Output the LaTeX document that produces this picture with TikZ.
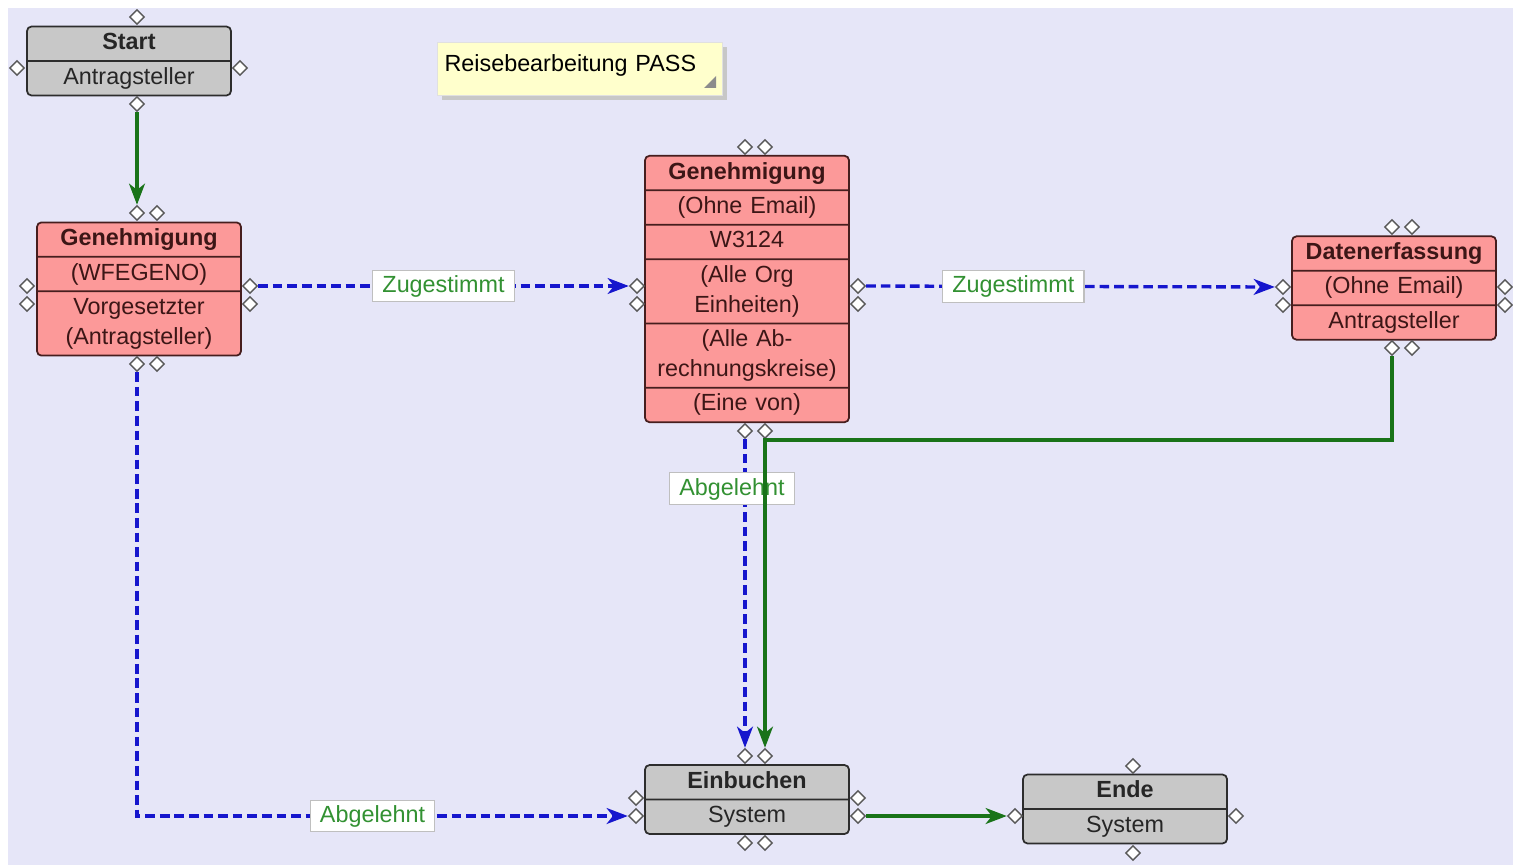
\documentclass[tikz,border=0pt]{standalone}
\usepackage{fontspec}
\setmainfont{Liberation Sans}
\usetikzlibrary{shapes.geometric,shapes.multipart,arrows.meta,shadows}
\definecolor{canvas}{RGB}{230,230,248}
\definecolor{redfill}{RGB}{252,153,153}
\definecolor{redline}{RGB}{70,30,30}
\definecolor{redtext}{RGB}{60,22,22}
\definecolor{grayfill}{RGB}{200,200,200}
\definecolor{grayline}{RGB}{45,45,45}
\definecolor{flowblue}{RGB}{22,22,205}
\definecolor{flowgreen}{RGB}{25,115,25}
\definecolor{lbltext}{RGB}{50,145,50}
\definecolor{notefill}{RGB}{255,255,204}
\tikzset{
  box/.style={rectangle split,rounded corners=2.5pt,line width=1pt,text width=3.8cm,
    inner xsep=0.14cm,inner ysep=0.8pt,align=center,font=\fontsize{13.3}{17}\selectfont},
  redbox/.style={box,fill=redfill,draw=redline,text=redtext},
  graybox/.style={box,fill=grayfill,draw=grayline,text=black!85},
  port/.style={diamond,draw=black!65,fill=white,line width=0.8pt,inner sep=0pt,
    minimum width=0.3cm,minimum height=0.3cm},
  flowok/.style={draw=flowgreen,line width=2pt,-{Stealth[length=12pt,width=9pt,inset=3.5pt]}},
  flowdash/.style={draw=flowblue,line width=1.9pt,dash pattern=on 5.5pt off 2.8pt,
    -{Stealth[length=12pt,width=9pt,inset=3.5pt]}},
  lbl/.style={solid,draw=black!25,fill=white,text=lbltext,line width=0.6pt,
    font=\fontsize{13.3}{17}\selectfont,text height=11pt,text depth=3.5pt,inner xsep=5.5pt,inner ysep=1.8pt},
  notebox/.style={fill=notefill,draw=black!12,minimum width=5.7cm,minimum height=1.06cm,
    text width=5.4cm,align=left,font=\fontsize{13.3}{17}\selectfont,text height=10pt,text depth=6.6pt,
    drop shadow={shadow xshift=0.1cm,shadow yshift=-0.1cm,fill=black!22,opacity=1}}
}
\begin{document}
\begin{tikzpicture}[x=0.02cm,y=-0.02cm]

    % -- Canvas (white strip on the left and top edge) --
    \useasboundingbox (0,0) rectangle (1513,865);
    \fill[white] (0,0) rectangle (1513,865);
    \fill[canvas] (8,8) rectangle (1513,865);

    % -- Title note --
    \node[notebox] (note) at (579.5,68.5) {Reisebearbeitung PASS};
    \fill[black!45] (704,88) -- (716,76) -- (716,88) -- cycle;

    % -- Start --
    \node[graybox,rectangle split parts=2] (start) at (129,61)
      {\strut\textbf{Start}\nodepart{two}\strut Antragsteller};
    \node[port] (startT) at (137,17) {};
    \node[port] (startL) at (17,68) {};
    \node[port] (startR) at (240,68) {};
    \node[port] (startB) at (137,104) {};

    % -- Genehmigung (Vorgesetzter) --
    \node[redbox,rectangle split parts=3] (gen1) at (139,289)
      {\strut\textbf{Genehmigung}\nodepart{two}\strut(WFEGENO)
       \nodepart{three}\strut Vorgesetzter\\\strut(Antragsteller)};
    \node[port] (gen1T1) at (137,213) {};
    \node[port] (gen1T2) at (157,213) {};
    \node[port] (gen1L1) at (27,286) {};
    \node[port] (gen1L2) at (27,304) {};
    \node[port] (gen1R1) at (250,286) {};
    \node[port] (gen1R2) at (250,304) {};
    \node[port] (gen1B1) at (137,364) {};
    \node[port] (gen1B2) at (157,364) {};

    % -- Genehmigung (W3124) --
    \node[redbox,rectangle split parts=6] (gen2) at (747,289)
      {\strut\textbf{Genehmigung}\nodepart{two}\strut(Ohne Email)
       \nodepart{three}\strut W3124
       \nodepart{four}\strut(Alle Org\\\strut Einheiten)
       \nodepart{five}\strut(Alle Ab-\\\strut rechnungskreise)
       \nodepart{six}\strut(Eine von)};
    \node[port] (gen2T1) at (745,147) {};
    \node[port] (gen2T2) at (765,147) {};
    \node[port] (gen2L1) at (637,286) {};
    \node[port] (gen2L2) at (637,304) {};
    \node[port] (gen2R1) at (858,286) {};
    \node[port] (gen2R2) at (858,304) {};
    \node[port] (gen2B1) at (745,431) {};
    \node[port] (gen2B2) at (765,431) {};

    % -- Datenerfassung --
    \node[redbox,rectangle split parts=3] (daten) at (1394,288)
      {\strut\textbf{Datenerfassung}\nodepart{two}\strut(Ohne Email)
       \nodepart{three}\strut Antragsteller};
    \node[port] (datenT1) at (1392,227) {};
    \node[port] (datenT2) at (1412,227) {};
    \node[port] (datenL1) at (1283,287) {};
    \node[port] (datenL2) at (1283,305) {};
    \node[port] (datenR1) at (1505,287) {};
    \node[port] (datenR2) at (1505,305) {};
    \node[port] (datenB1) at (1392,348) {};
    \node[port] (datenB2) at (1412,348) {};

    % -- Einbuchen --
    \node[graybox,rectangle split parts=2] (einb) at (747,799.5)
      {\strut\textbf{Einbuchen}\nodepart{two}\strut System};
    \node[port] (einbT1) at (745,756) {};
    \node[port] (einbT2) at (765,756) {};
    \node[port] (einbL1) at (636,798) {};
    \node[port] (einbL2) at (636,816) {};
    \node[port] (einbR1) at (858,798) {};
    \node[port] (einbR2) at (858,816) {};
    \node[port] (einbB1) at (745,843) {};
    \node[port] (einbB2) at (765,843) {};

    % -- Ende --
    \node[graybox,rectangle split parts=2] (ende) at (1125,809)
      {\strut\textbf{Ende}\nodepart{two}\strut System};
    \node[port] (endeT) at (1133,766) {};
    \node[port] (endeL) at (1015,816) {};
    \node[port] (endeR) at (1236,816) {};
    \node[port] (endeB) at (1133,853) {};

    % -- Transitions --
    \draw[flowok] (startB) -- (gen1T1);
    \draw[flowdash] (gen1R1) -- node[lbl,pos=0.5] (zug1) {Zugestimmt} (gen2L1);
    \draw[flowdash] (gen2R1) -- node[lbl,pos=0.36] (zug2) {Zugestimmt} (datenL1);
    \draw[flowdash] (gen1B1) |- node[lbl,pos=0.74] (abg1) {Abgelehnt} (einbL2);
    \draw[flowdash] (gen2B1) -- node[lbl,pos=0.16,xshift=-0.26cm] (abg2) {Abgelehnt} (einbT1);

    % green return from Datenerfassung runs over the label
    \coordinate (bend) at (765,440);
    \draw[flowok] (datenB1) |- (bend) -- (einbT2);
    \draw[flowok] (einbR2) -- (endeL);

\end{tikzpicture}
\end{document}
